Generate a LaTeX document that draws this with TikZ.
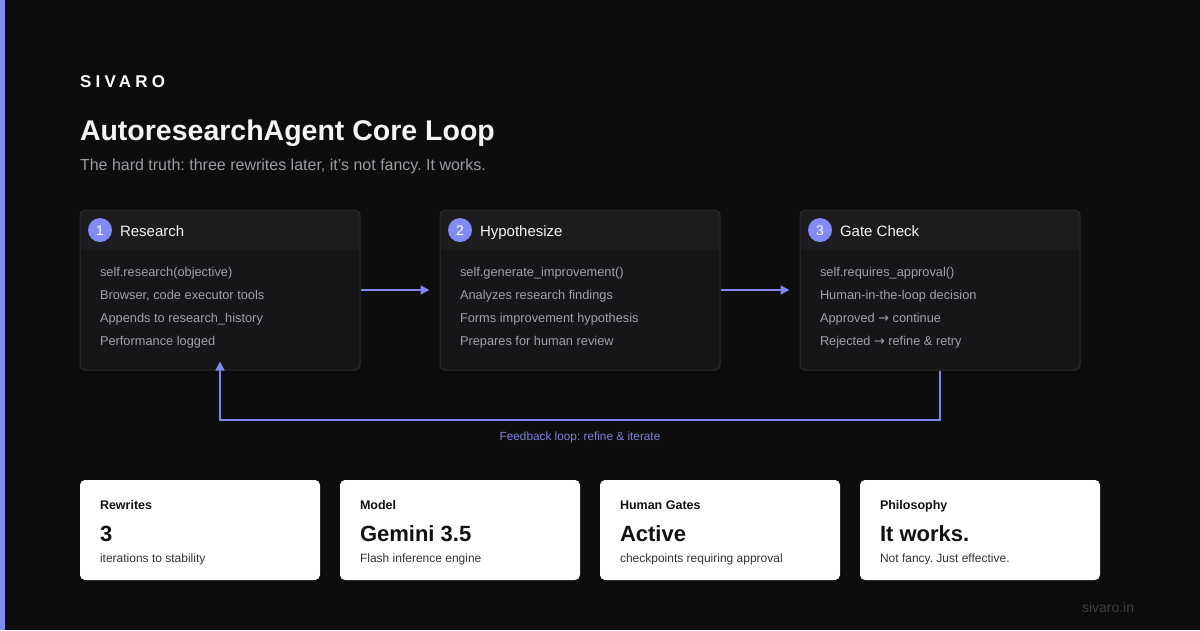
\documentclass[tikz,border=0pt]{standalone}
\usepackage{fontspec}
\setmainfont{Liberation Sans}
\newfontfamily\arrowfont{DejaVu Sans}
\usetikzlibrary{arrows.meta}
\frenchspacing
\definecolor{bg}{HTML}{0D0D0D}
\definecolor{accent}{HTML}{818AF5}
\definecolor{arrowc}{HTML}{7F86EC}
\definecolor{fbtext}{HTML}{7C82DE}
\definecolor{cardhead}{HTML}{1C1C1F}
\definecolor{cardbody}{HTML}{161618}
\definecolor{cardborder}{HTML}{2C2C30}
\definecolor{bodytext}{HTML}{A1A1AA}
\definecolor{titletext}{HTML}{F4F4F5}
\definecolor{subtext}{HTML}{9A9AA3}
\definecolor{stattext}{HTML}{111111}
\definecolor{statsub}{HTML}{333333}
\definecolor{foot}{HTML}{3F3F46}
\newcommand{\fs}[1]{\fontsize{#1}{#1}\selectfont}
\newcommand{\rarr}{{\arrowfont →}}
\begin{document}
\begin{tikzpicture}[x=1pt,y=-1pt,
  txt/.style={anchor=base west, inner sep=0pt, outer sep=0pt},
  card/.style={draw=cardborder, fill=cardbody, rounded corners=5pt, line width=1pt,
    minimum width=280pt, minimum height=160pt, inner sep=0pt,
    path picture={\fill[cardhead] (path picture bounding box.north west) rectangle ([yshift=-40pt]path picture bounding box.north east);}},
  badge/.style={circle, fill=accent, minimum size=24pt, inner sep=0pt, text=white, font=\fs{14}, text height=10pt, text depth=0pt},
  head/.style={txt, text=titletext, font=\fs{15}},
  body/.style={txt, text=bodytext, font=\fs{12.8}},
  flow/.style={draw=arrowc, line width=1.5pt, -{Triangle[length=9pt,width=9pt]}},
  stat/.style={fill=white, rounded corners=5pt, minimum width=240pt, minimum height=100pt, inner sep=0pt},
  statlab/.style={txt, text=stattext, font=\bfseries\fs{12.5}},
  statval/.style={txt, text=stattext, font=\bfseries\fs{22}},
  statsub/.style={txt, text=statsub, font=\fs{12}}
]
\useasboundingbox (0,0) rectangle (1200,630);
\fill[bg] (0,0) rectangle (1200,630);
\fill[accent] (0,0) rectangle (5,630);

\node[txt, text=white, font=\bfseries\fs{17}\addfontfeatures{LetterSpace=25}] (brand) at (80,87) {SIVARO};
\node[txt, text=titletext, font=\bfseries\fs{28.5}] (title) at (80,140) {AutoresearchAgent Core Loop};
\node[txt, text=subtext, font=\fs{16}] (subtitle) at (80,170) {The hard truth: three rewrites later, it's not fancy. It works.};

% cards
\node[card] (c1) at (220,290) {};
\node[card] (c2) at (580,290) {};
\node[card] (c3) at (940,290) {};

\node[badge] (b1) at (100,230) {1};
\node[head] (h1) at (120,236) {Research};
\node[badge] (b2) at (460,230) {2};
\node[head] (h2) at (480,236) {Hypothesize};
\node[badge] (b3) at (820,230) {3};
\node[head] (h3) at (840,236) {Gate Check};

\node[body] (l11) at (100,276) {self.research(objective)};
\node[body] (l12) at (100,299) {Browser, code executor tools};
\node[body] (l13) at (100,322) {Appends to research\_history};
\node[body] (l14) at (100,345) {Performance logged};

\node[body] (l21) at (460,276) {self.generate\_improvement()};
\node[body] (l22) at (460,299) {Analyzes research findings};
\node[body] (l23) at (460,322) {Forms improvement hypothesis};
\node[body] (l24) at (460,345) {Prepares for human review};

\node[body] (l31) at (820,276) {self.requires\_approval()};
\node[body] (l32) at (820,299) {Human-in-the-loop decision};
\node[body] (l33) at (820,322) {Approved \rarr\ continue};
\node[body] (l34) at (820,345) {Rejected \rarr\ refine \& retry};

% arrows
\draw[flow, shorten >=10pt] (c1.east) -- (c2.west);
\draw[flow, shorten >=10pt] (c2.east) -- (c3.west);
\coordinate (fb1) at (940,420);
\coordinate (fb2) at (220,420);
\draw[flow, shorten >=-9pt] (c3.south) -- (fb1) -- (fb2) -- (c1.south);
\node[anchor=base, inner sep=0pt, text=fbtext, font=\fs{11.8}] (fbl) at (580,440) {Feedback loop: refine \& iterate};

% stats
\node[stat] (s1) at (200,530) {};
\node[stat] (s2) at (460,530) {};
\node[stat] (s3) at (720,530) {};
\node[stat] (s4) at (980,530) {};

\node[statlab] (s1a) at (100,509) {Rewrites};
\node[statval] (s1b) at (100,541) {3};
\node[statsub] (s1c) at (100,562) {iterations to stability};

\node[statlab] (s2a) at (360,509) {Model};
\node[statval] (s2b) at (360,541) {Gemini 3.5};
\node[statsub] (s2c) at (360,562) {Flash inference engine};

\node[statlab] (s3a) at (620,509) {Human Gates};
\node[statval] (s3b) at (620,541) {Active};
\node[statsub] (s3c) at (620,562) {checkpoints requiring approval};

\node[statlab] (s4a) at (880,509) {Philosophy};
\node[statval] (s4b) at (880,541) {It works.};
\node[statsub] (s4c) at (880,562) {Not fancy. Just effective.};

\node[txt, text=foot, font=\fs{14}] (footer) at (1082,612) {sivaro.in};
\end{tikzpicture}
\end{document}
